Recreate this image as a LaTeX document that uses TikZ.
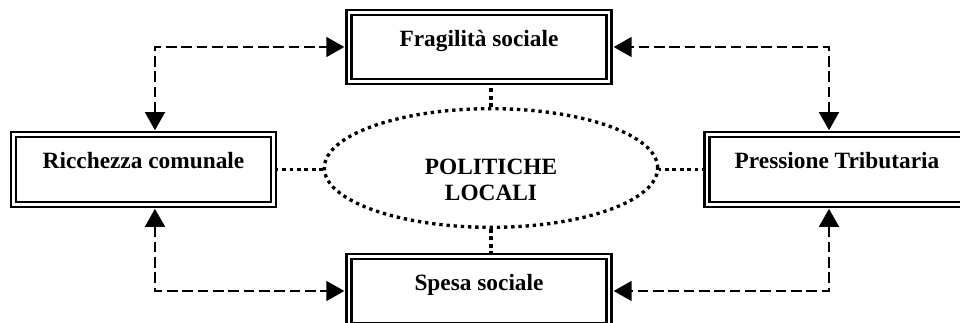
\documentclass[tikz,border=0pt]{standalone}
\usepackage{fontspec}
\setmainfont{Liberation Serif}
\usetikzlibrary{arrows.meta,shapes.geometric}

\begin{document}
\begin{tikzpicture}[x=0.75pt,y=0.75pt,
    every node/.style={font=\fontsize{17.5}{19.5}\selectfont\bfseries},
    box/.style={draw,double,line width=1.6pt,double distance=2.2pt,
        minimum width=195pt,minimum height=52pt,
        text height=0.7em,text depth=0.84em},
    pol/.style={draw,ellipse,line width=2.5pt,dash pattern=on 2.5pt off 2.9pt,
        minimum width=250pt,minimum height=89pt,inner sep=0pt},
    tie/.style={line width=2.7pt,dash pattern=on 2.7pt off 2.9pt},
    link/.style={<->,>={Triangle[length=13.5pt,width=15pt]},line width=1.1pt,
        dash pattern=on 8pt off 3.5pt,shorten <=2.7pt,shorten >=2.7pt}]
    \useasboundingbox (0,0) rectangle (960,322);

    \node[box] (frag) at (479,275) {Fragilità sociale};
    \node[box] (ricc) at (143.5,152.5) {Ricchezza comunale};
    \node[box] (press) at (837,152.5) {Pressione Tributaria};
    \node[box] (spesa) at (479,31) {Spesa sociale};

    \node[pol] (ell) at (491,154) {};
    \node[align=center] (poltxt) at (491,142) {POLITICHE\\LOCALI};

    \draw[tie] (ricc.east) -- (ricc.east -| ell.west);
    \draw[tie] (press.west) -- (press.west -| ell.east);
    \draw[tie] (ell.north) -- (ell.north |- frag.south);
    \draw[tie] (ell.south) -- (ell.south |- spesa.north);

    \draw[link] ([xshift=8.6pt]ricc.north) |- (frag.west);
    \draw[link] ([xshift=-6pt]press.north) |- (frag.east);
    \draw[link] ([xshift=8.6pt]ricc.south) |- (spesa.west);
    \draw[link] ([xshift=-6pt]press.south) |- (spesa.east);
\end{tikzpicture}
\end{document}
